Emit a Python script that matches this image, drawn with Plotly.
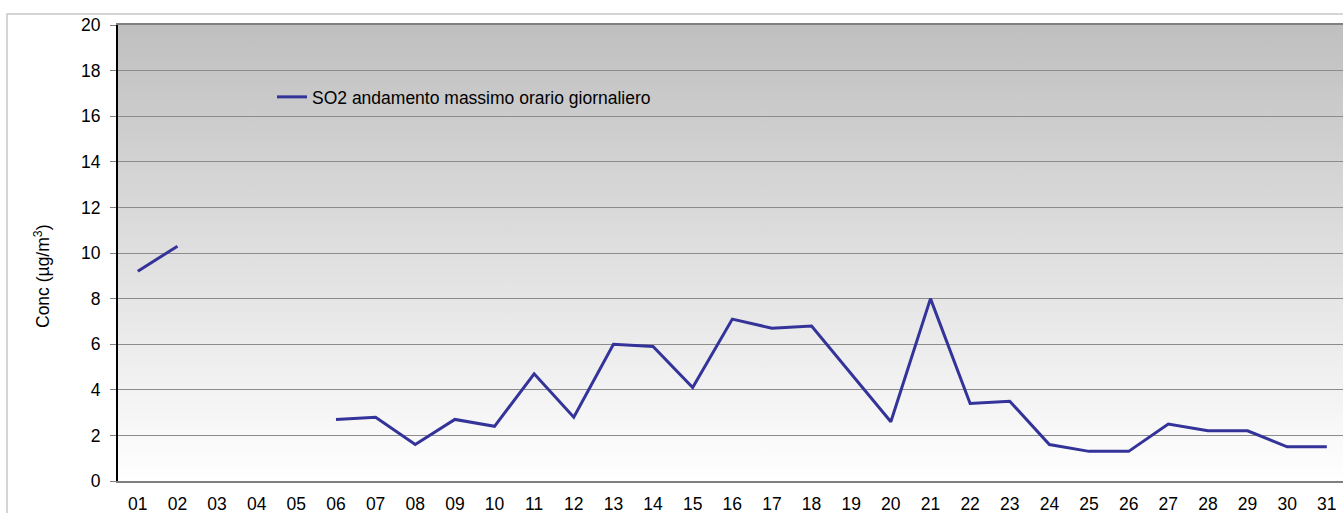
import base64
import plotly.graph_objects as go

# ---- data ----
days = ["01", "02", "03", "04", "05", "06", "07", "08", "09", "10",
        "11", "12", "13", "14", "15", "16", "17", "18", "19", "20",
        "21", "22", "23", "24", "25", "26", "27", "28", "29", "30", "31"]
so2_max = [9.2, 10.3, None, None, None, 2.7, 2.8, 1.6, 2.7, 2.4,
           4.7, 2.8, 6.0, 5.9, 4.1, 7.1, 6.7, 6.8, 4.7, 2.6,
           8.0, 3.4, 3.5, 1.6, 1.3, 1.3, 2.5, 2.2, 2.2, 1.5, 1.5]
series_name = "SO2 andamento massimo orario giornaliero"
y_ticks = [0, 2, 4, 6, 8, 10, 12, 14, 16, 18, 20]

FONT = "Liberation Sans, Arial, sans-serif"
FS = 17.5

# gradient background for plot area (gray top -> white bottom)
svg = ('<svg xmlns="http://www.w3.org/2000/svg" width="100" height="100" preserveAspectRatio="none">'
       '<defs><linearGradient id="g" x1="0" y1="0" x2="0" y2="1">'
       '<stop offset="0" stop-color="#bfbfbf"/><stop offset="1" stop-color="#ffffff"/>'
       '</linearGradient></defs><rect width="100" height="100" fill="url(#g)"/></svg>')
svg_uri = "data:image/svg+xml;base64," + base64.b64encode(svg.encode()).decode()

fig = go.Figure()
fig.add_trace(go.Scatter(
    x=days, y=so2_max, mode="lines", name=series_name,
    line=dict(color="#333399", width=3), connectgaps=False,
    showlegend=True,
))

W, H = 1343, 513
L, R, T, B = 118, 0, 25, 32
pw = W - L - R
ph = H - T - B

fig.update_layout(
    width=W, height=H,
    margin=dict(l=L, r=R, t=T, b=B, autoexpand=False),
    paper_bgcolor="white",
    plot_bgcolor="rgba(0,0,0,0)",
    font=dict(family=FONT, size=FS, color="black"),
    showlegend=True,
    legend=dict(
        x=(272 - L) / pw, xanchor="left",
        y=(H - B - 97) / ph, yanchor="middle",
        bgcolor="rgba(0,0,0,0)", borderwidth=0,
        font=dict(family=FONT, size=FS, color="black"),
    ),
    images=[dict(source=svg_uri, xref="paper", yref="paper", x=0, y=1,
                 sizex=1, sizey=1, xanchor="left", yanchor="top",
                 sizing="stretch", layer="below")],
    shapes=[dict(type="rect", xref="paper", yref="paper",
                 x0=(7 - L) / pw, x1=1.2, y0=-0.3, y1=(H - B - 14) / ph,
                 line=dict(color="#c8c8c8", width=1.5), fillcolor="rgba(0,0,0,0)",
                 layer="below")],
    annotations=[dict(text="Conc (µg/m<sup>3</sup>)", xref="paper", yref="paper",
                      x=(42 - L) / pw, y=(H - B - 277) / ph, textangle=-90,
                      showarrow=False, xanchor="center", yanchor="middle",
                      font=dict(family=FONT, size=FS, color="black"))],
)

fig.update_xaxes(
    type="category", range=[-0.5, -0.5 + pw / ((1327 - 138) / 30)],
    showgrid=False, showline=True, linecolor="#808080", linewidth=2, mirror=True,
    ticks="", ticklabelstandoff=6, tickfont=dict(family=FONT, size=FS, color="black"),
    zeroline=False, fixedrange=True,
)
fig.update_yaxes(
    range=[0, 20], tickvals=y_ticks, ticktext=[str(v) for v in y_ticks],
    showgrid=True, gridcolor="#8c8c8c", gridwidth=1,
    showline=True, linecolor="black", linewidth=2,
    ticks="outside", ticklen=6, tickcolor="#808080", tickwidth=1,
    ticklabelstandoff=6,
    tickfont=dict(family=FONT, size=FS, color="black"),
    zeroline=False, fixedrange=True,
)

fig.write_html("out.html", config={"displayModeBar": False},
               post_script="document.body.style.margin='0';")
